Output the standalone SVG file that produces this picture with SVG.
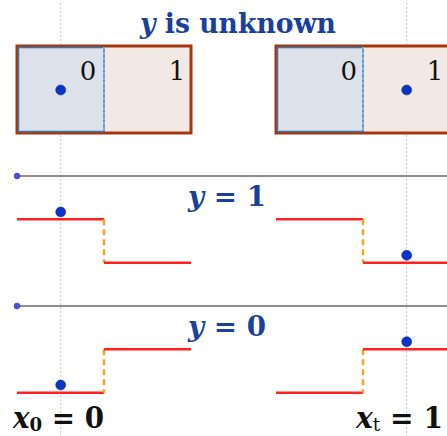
<svg xmlns="http://www.w3.org/2000/svg" width="447" height="436" viewBox="0 0 447 436">
<style>
.guide{stroke:#c8c8c8;stroke-width:1;stroke-dasharray:2 2;fill:none}
.outer{fill:#f3e9e4;stroke:#a3380e;stroke-width:3}
.inner{fill:#dde1e9;stroke:#3f73ad;stroke-width:1.5}
.split{stroke:#7cc6f6;stroke-width:1.5;stroke-dasharray:3 2}
.axis{stroke:#666;stroke-width:1.5}
.adot{fill:#4b4be6;stroke:#333;stroke-width:0.4}
.step{stroke:#ff2020;stroke-width:2.5;fill:none}
.jump{stroke:#ffa020;stroke-width:2.5;stroke-dasharray:6 4}
.pt{fill:#0a35c8;stroke:#0a2a80;stroke-width:0.5}
.lbl{font-family:"DejaVu Serif",serif;font-size:26px;fill:#111}
.title{font-family:"DejaVu Serif",serif;font-size:27px;font-weight:bold;fill:#1c3f9a}
.eq{font-family:"DejaVu Serif",serif;font-size:29px;font-weight:bold;fill:#111}
</style>
<g id="guides">
<line class="guide" x1="60.7" y1="3" x2="60.7" y2="436"/>
<line class="guide" x1="406.7" y1="3" x2="406.7" y2="436"/>
</g>
<g id="title"><text class="title" x="140" y="33" textLength="196" lengthAdjust="spacingAndGlyphs"><tspan font-style="italic">y</tspan> is unknown</text></g>
<g id="box-left">
<rect class="outer" x="17" y="46" width="174" height="87"/>
<rect class="inner" x="18.5" y="47.5" width="85.5" height="84"/>
<line class="split" x1="104" y1="47" x2="104" y2="132"/>
<text class="lbl" x="88" y="80" text-anchor="middle">0</text>
<text class="lbl" x="177" y="80" text-anchor="middle">1</text>
<circle class="pt" cx="60.7" cy="90" r="5"/>
</g>
<g id="box-right">
<rect class="outer" x="276" y="46" width="190" height="87"/>
<rect class="inner" x="277.5" y="47.5" width="85.5" height="84"/>
<line class="split" x1="363" y1="47" x2="363" y2="132"/>
<text class="lbl" x="348.7" y="80" text-anchor="middle">0</text>
<text class="lbl" x="435" y="80" text-anchor="middle">1</text>
<circle class="pt" cx="406.7" cy="90" r="5"/>
</g>
<g id="axis-1">
<line class="axis" x1="17" y1="176" x2="447" y2="176"/>
<circle class="adot" cx="17" cy="176" r="3"/>
</g>
<g id="label-y1"><text class="title" x="188" y="206" textLength="78" lengthAdjust="spacingAndGlyphs"><tspan font-style="italic">y</tspan> = 1</text></g>
<g id="step-1-left">
<polyline class="step" points="17,219.3 104,219.3"/>
<line class="jump" x1="104" y1="219.3" x2="104" y2="262.7"/>
<polyline class="step" points="104,262.7 191,262.7"/>
<circle class="pt" cx="60.7" cy="212" r="5"/>
</g>
<g id="step-1-right">
<polyline class="step" points="276,219.3 363,219.3"/>
<line class="jump" x1="363" y1="219.3" x2="363" y2="262.7"/>
<polyline class="step" points="363,262.7 447,262.7"/>
<circle class="pt" cx="406.7" cy="255.3" r="5"/>
</g>
<g id="axis-0">
<line class="axis" x1="17" y1="306" x2="447" y2="306"/>
<circle class="adot" cx="17" cy="306" r="3"/>
</g>
<g id="label-y0"><text class="title" x="188" y="336" textLength="78" lengthAdjust="spacingAndGlyphs"><tspan font-style="italic">y</tspan> = 0</text></g>
<g id="step-0-left">
<polyline class="step" points="17,392.7 104,392.7"/>
<line class="jump" x1="104" y1="349.3" x2="104" y2="392.7"/>
<polyline class="step" points="104,349.3 191,349.3"/>
<circle class="pt" cx="60.7" cy="385" r="5"/>
</g>
<g id="step-0-right">
<polyline class="step" points="276,392.7 363,392.7"/>
<line class="jump" x1="363" y1="349.3" x2="363" y2="392.7"/>
<polyline class="step" points="363,349.3 447,349.3"/>
<circle class="pt" cx="406.7" cy="341.7" r="5"/>
</g>
<g id="label-x0"><text class="eq" x="13" y="428" textLength="91" lengthAdjust="spacingAndGlyphs"><tspan font-style="italic">x</tspan><tspan font-size="19" dy="3">0</tspan><tspan dy="-3"> = 0</tspan></text></g>
<g id="label-xt"><text class="eq" x="356" y="428" textLength="87" lengthAdjust="spacingAndGlyphs"><tspan font-style="italic">x</tspan><tspan font-size="19" dy="3" font-weight="normal">t</tspan><tspan dy="-3"> = 1</tspan></text></g>
</svg>
